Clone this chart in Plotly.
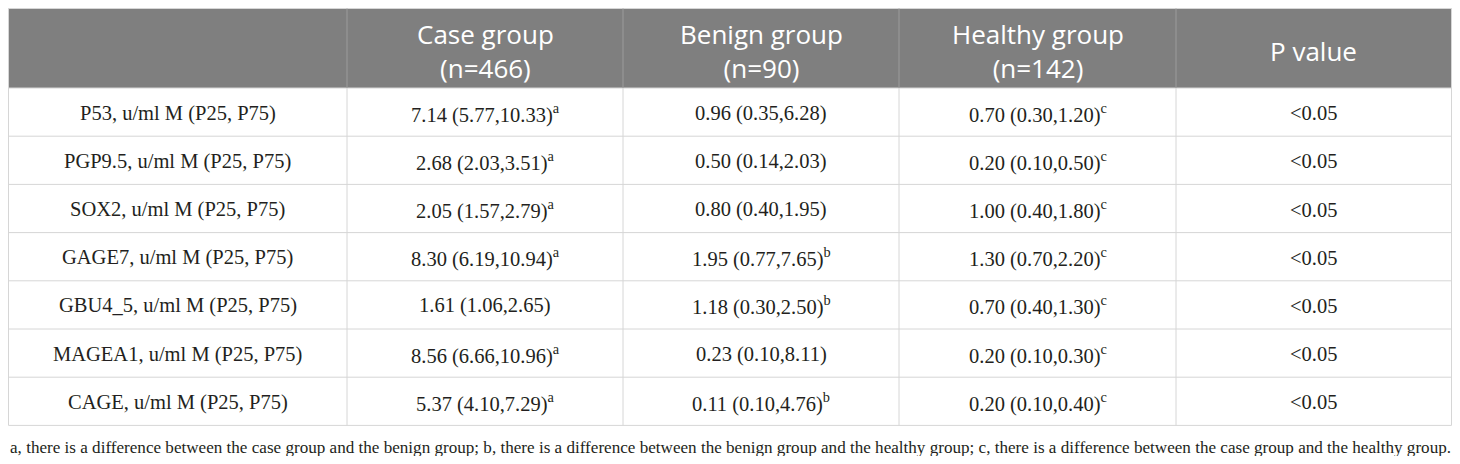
"""
Serum autoantibody levels by group - table figure
"""

import plotly.graph_objects as go


# ---- data ----
headers = ["", "Case group<br>(n=466)", "Benign group<br>(n=90)",
           "Healthy group<br>(n=142)", "P value"]

markers = ["P53", "PGP9.5", "SOX2", "GAGE7", "GBU4_5", "MAGEA1", "CAGE"]

case_vals = ["7.14 (5.77,10.33)", "2.68 (2.03,3.51)", "2.05 (1.57,2.79)",
             "8.30 (6.19,10.94)", "1.61 (1.06,2.65)", "8.56 (6.66,10.96)",
             "5.37 (4.10,7.29)"]
case_sup = ["a", "a", "a", "a", "", "a", "a"]

benign_vals = ["0.96 (0.35,6.28)", "0.50 (0.14,2.03)", "0.80 (0.40,1.95)",
               "1.95 (0.77,7.65)", "1.18 (0.30,2.50)", "0.23 (0.10,8.11)",
               "0.11 (0.10,4.76)"]
benign_sup = ["", "", "", "b", "b", "", "b"]

healthy_vals = ["0.70 (0.30,1.20)", "0.20 (0.10,0.50)", "1.00 (0.40,1.80)",
                "1.30 (0.70,2.20)", "0.70 (0.40,1.30)", "0.20 (0.10,0.30)",
                "0.20 (0.10,0.40)"]
healthy_sup = ["c", "c", "c", "c", "c", "c", "c"]

p_vals = ["<0.05"] * 7

footnote = ("a, there is a difference between the case group and the benign group; "
            "b, there is a difference between the benign group and the healthy group; "
            "c, there is a difference between the case group and the healthy group.")


# ---- layout constants ----
# the page body has an 8px margin, so the figure is 16px smaller than the window
# and the axes are set up in window pixels
PAGE_W, PAGE_H = 1460, 464
BODY_MARGIN = 8
W, H = PAGE_W - 2 * BODY_MARGIN, PAGE_H - 2 * BODY_MARGIN

left, top = 8.5, 8.5
col_widths = [338.5, 276, 276, 277, 275.5]
header_h = 79.5
row_h = 48.2

header_fill = "#7f7f7f"
grid_color = "#d6d6d6"
text_color = "#231f20"

col_edges = [left]
for w in col_widths:
    col_edges.append(col_edges[-1] + w)
col_centers = [(a + b) / 2 for a, b in zip(col_edges[:-1], col_edges[1:])]

n_rows = len(markers)
row_edges = [top + header_h + i * row_h for i in range(n_rows + 1)]
table_bottom = row_edges[-1]


def cell(val, sup):
    txt = val.replace("<", "&lt;")
    if sup:
        txt += "<sup>" + sup + "</sup>"
    return txt


rows = []
for i in range(n_rows):
    rows.append([
        markers[i] + ", u/ml M (P25, P75)",
        cell(case_vals[i], case_sup[i]),
        cell(benign_vals[i], benign_sup[i]),
        cell(healthy_vals[i], healthy_sup[i]),
        cell(p_vals[i], ""),
    ])


fig = go.Figure()

shapes = []

# header background
shapes.append(dict(type="rect", x0=col_edges[0], x1=col_edges[-1],
                   y0=top, y1=top + header_h, fillcolor=header_fill,
                   line=dict(width=0), layer="below"))

# horizontal grid lines
for y in [top] + row_edges:
    shapes.append(dict(type="line", x0=col_edges[0], x1=col_edges[-1],
                       y0=y, y1=y, line=dict(color=grid_color, width=1)))

# vertical grid lines
for j, x in enumerate(col_edges):
    inner = 0 < j < len(col_edges) - 1
    shapes.append(dict(type="line", x0=x, x1=x, y0=top + header_h,
                       y1=table_bottom, line=dict(color=grid_color, width=1)))
    shapes.append(dict(type="line", x0=x, x1=x, y0=top, y1=top + header_h,
                       line=dict(color="#9c9c9c" if inner else grid_color,
                                 width=1)))

annotations = []

for j, h in enumerate(headers):
    if not h:
        continue
    annotations.append(dict(
        x=col_centers[j], y=top + header_h / 2 + 3, text=h,
        showarrow=False, xanchor="center", yanchor="middle",
        font=dict(family="Open Sans", size=26, color="white"),
    ))

for i, r in enumerate(rows):
    yc = (row_edges[i] + row_edges[i + 1]) / 2 + 1
    for j, txt in enumerate(r):
        annotations.append(dict(
            x=col_centers[j], y=yc, text=txt,
            showarrow=False, xanchor="center", yanchor="middle",
            font=dict(family="Liberation Serif", size=20.5, color=text_color),
        ))

# footnote under the table, anchored to the left edge of the figure
annotations.append(dict(
    x=0, xref="paper", y=table_bottom + 22, text=footnote,
    showarrow=False, xanchor="left", yanchor="middle",
    font=dict(family="Liberation Serif", size=17.1, color=text_color),
))

fig.update_layout(
    width=W, height=H,
    margin=dict(l=0, r=0, t=0, b=0),
    paper_bgcolor="white", plot_bgcolor="white",
    xaxis=dict(range=[BODY_MARGIN, BODY_MARGIN + W], visible=False,
               fixedrange=True),
    yaxis=dict(range=[BODY_MARGIN + H, BODY_MARGIN], visible=False,
               fixedrange=True),
    shapes=shapes,
    annotations=annotations,
    showlegend=False,
)

fig.write_html("out.html")
